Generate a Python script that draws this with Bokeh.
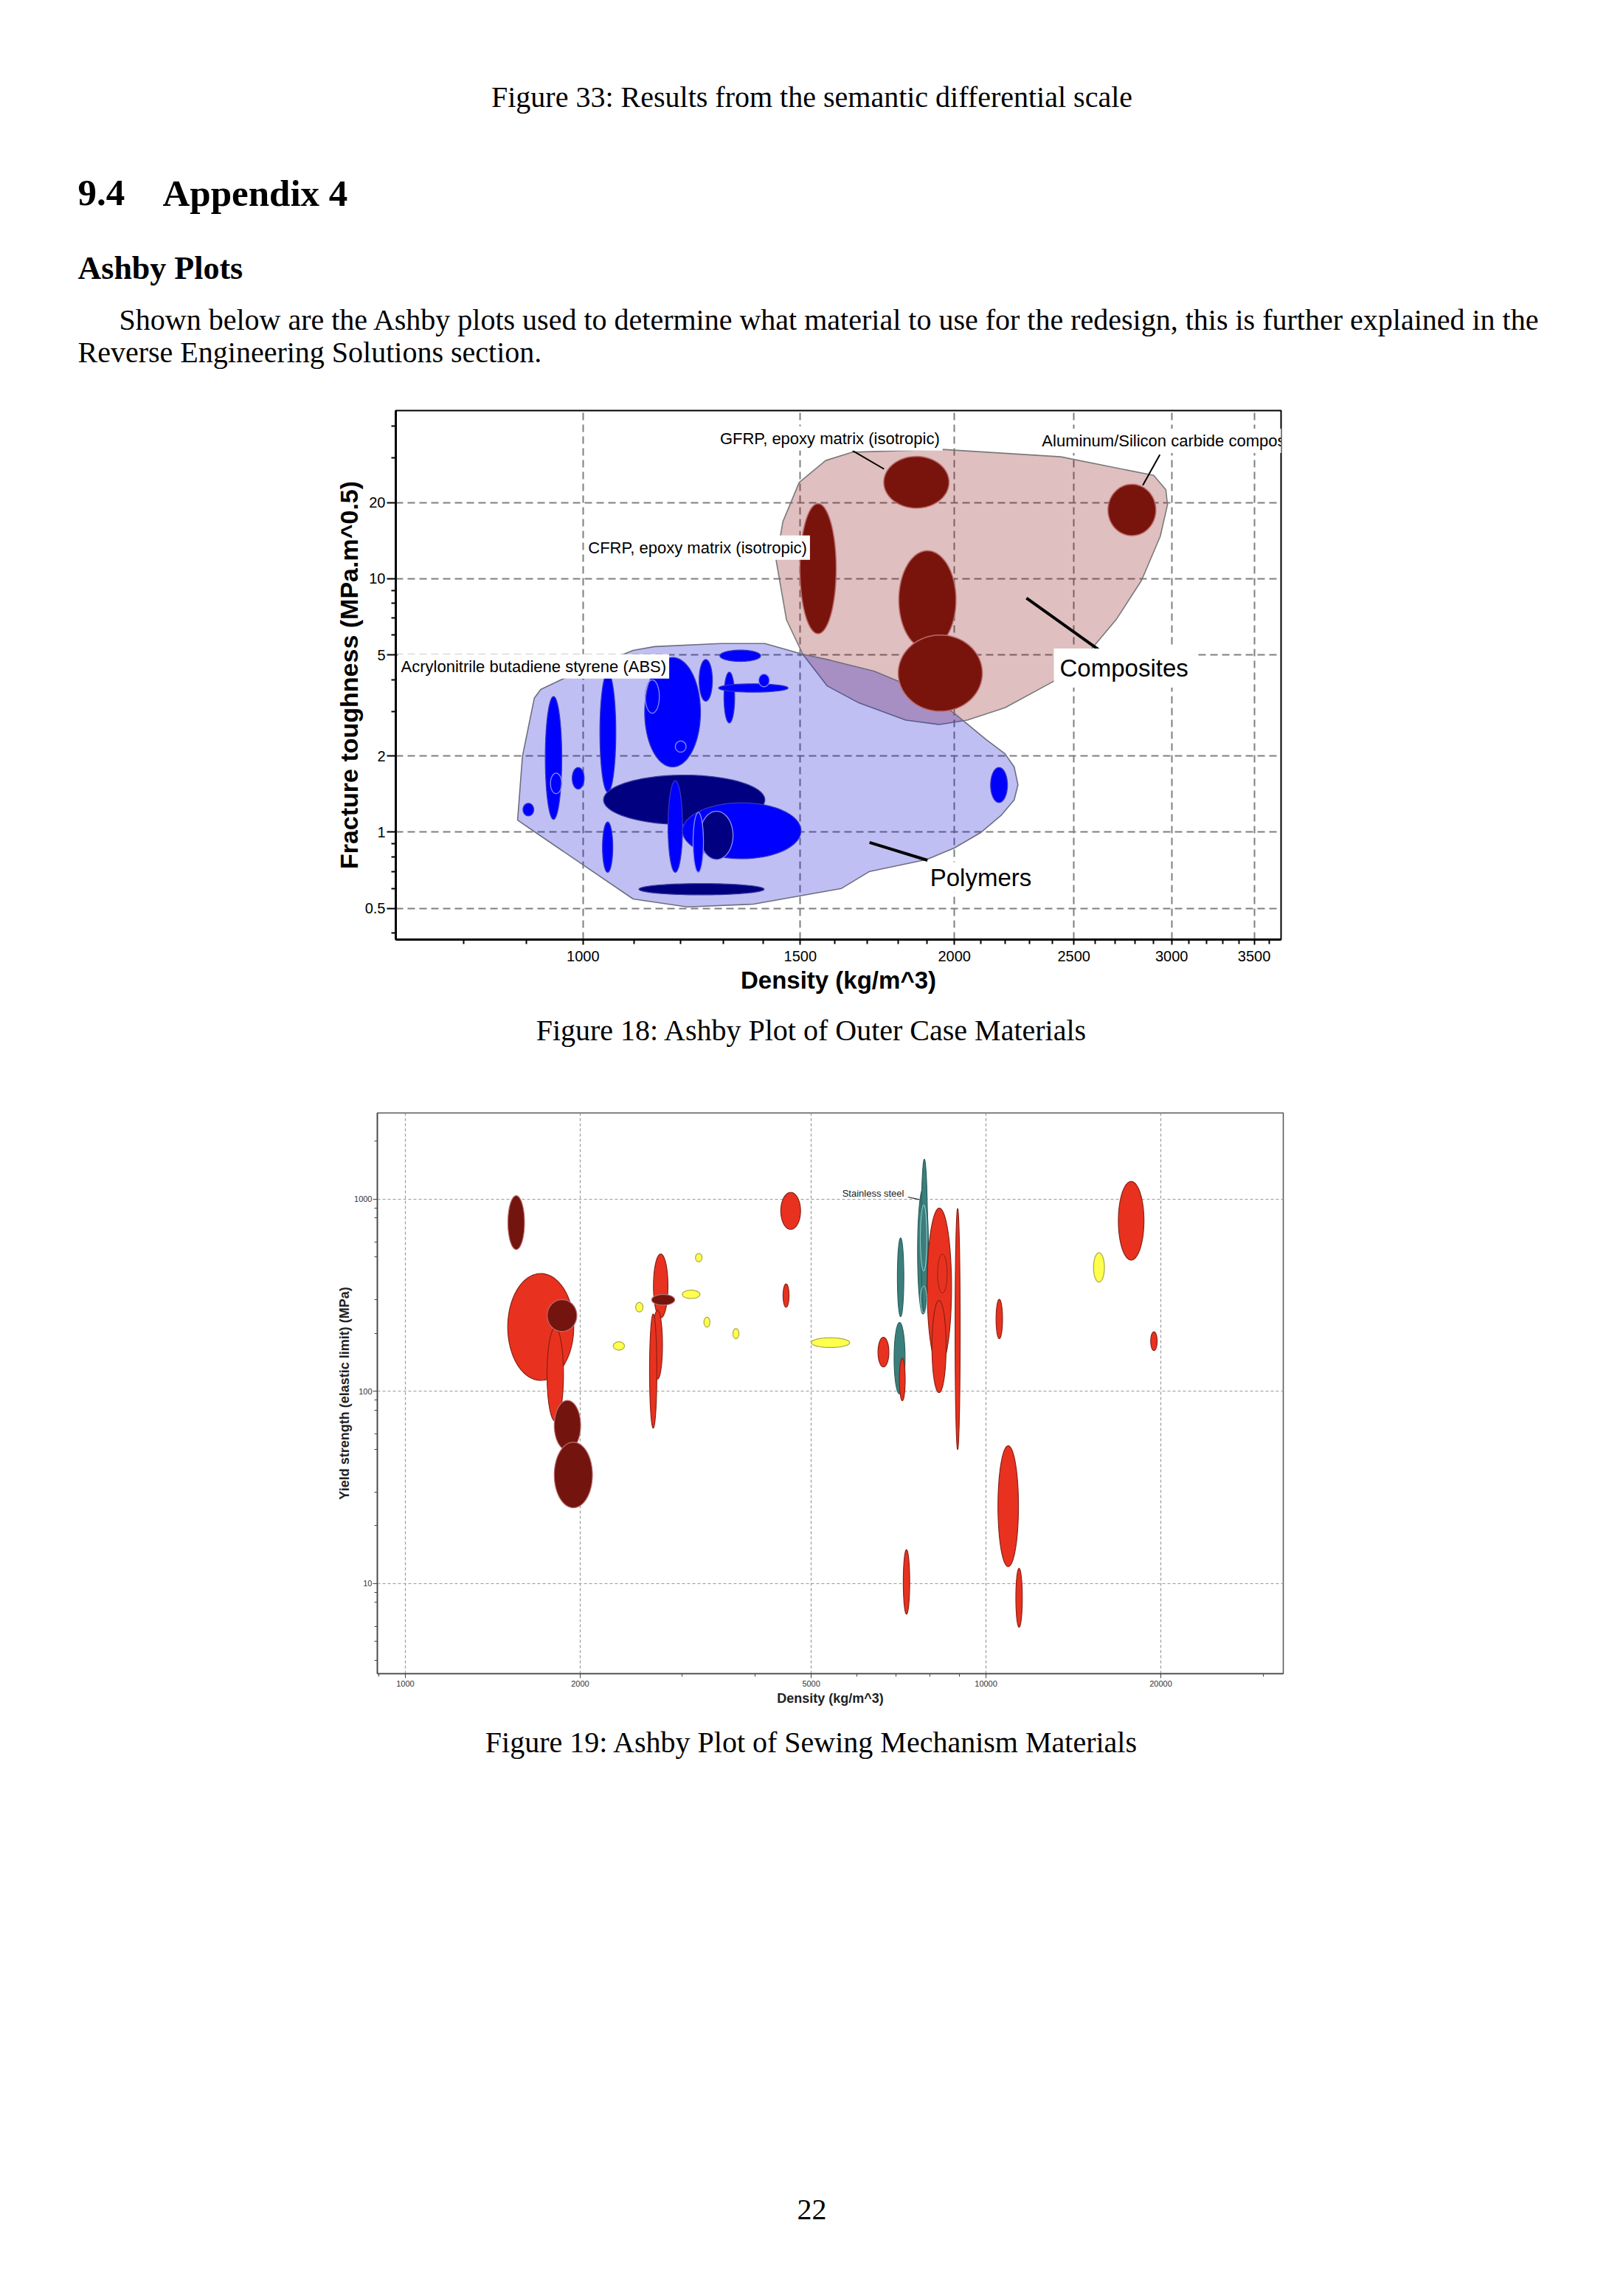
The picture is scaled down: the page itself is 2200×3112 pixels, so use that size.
import numpy as np
from bokeh.plotting import figure
from bokeh.models import Range1d, FixedTicker, ColumnDataSource, CustomJSTickFormatter
from bokeh.layouts import column
from bokeh.embed import file_html
from bokeh.resources import INLINE
from bokeh.core.properties import value

# ======================= DATA =======================
# ---- Figure 18: fracture toughness (MPa.m^0.5) vs density (kg/m^3) ----
poly_rho_lo = [894, 932, 980, 1032, 1037, 1122, 1039, 1204, 1244, 1172, 1228, 1110, 1242, 1301, 1288, 1388, 1291, 2140]
poly_rho_hi = [912, 961, 1002, 1063, 1057, 1245, 1404, 1502, 1323, 1204, 1252, 1402, 1273, 1327, 1466, 1416, 1393, 2208]
poly_k_lo = [1.16, 1.124, 1.48, 1.44, 0.695, 1.81, 1.072, 0.786, 0.78, 0.695, 0.695, 0.566, 3.29, 2.70, 3.57, 3.75, 4.72, 1.31]
poly_k_hi = [1.30, 3.43, 1.80, 4.26, 1.097, 4.89, 1.68, 1.306, 1.21, 1.597, 1.197, 0.627, 4.80, 4.28, 3.85, 4.21, 5.23, 1.80]

poly_sub_rho_lo = [941, 1123, 1188]
poly_sub_rho_hi = [961, 1153, 1212]
poly_sub_k_lo = [1.42, 2.95, 2.07]
poly_sub_k_hi = [1.71, 3.99, 2.29]

comp_names = ["CFRP, epoxy matrix (isotropic)", "GFRP, epoxy matrix (isotropic)", "Composite 3", "Composite 4",
              "Aluminum/Silicon carbide composite"]
comp_rho_lo = [1499, 1753, 1803, 1801, 2664]
comp_rho_hi = [1604, 1980, 2006, 2107, 2913]
comp_k_lo = [6.07, 19.0, 5.28, 3.0, 14.8]
comp_k_hi = [19.8, 30.4, 12.9, 6.0, 23.6]

poly_env_rho = [1098, 1143, 1292, 1404, 1507, 1587, 1722, 1878, 1999, 2122, 2198, 2236, 2252, 2236, 2184,
                2103, 1999, 1899, 1707, 1620, 1374, 1215, 1098, 916, 885, 893, 913, 924, 962]
poly_env_k = [5.22, 5.40, 5.55, 5.55, 5.04, 4.77, 4.32, 3.62, 2.95, 2.32, 2.04, 1.81, 1.54, 1.34, 1.17,
              1.0, 0.866, 0.78, 0.70, 0.60, 0.52, 0.507, 0.545, 0.995, 1.116, 1.99, 3.38, 3.66, 4.02]
comp_env_rho = [1654, 1956, 2439, 2901, 2968, 2977, 2937, 2836, 2705, 2583, 2412, 2198, 2049, 1945, 1826,
                1673, 1577, 1507, 1462, 1434, 1452, 1497, 1573]
comp_env_k = [31.6, 32.4, 30.3, 25.6, 22.45, 19.6, 14.7, 9.85, 6.9, 5.28, 3.96, 3.1, 2.77, 2.66, 2.77,
              3.24, 3.78, 5.04, 6.88, 11.8, 16.8, 24.0, 29.3]

f18_x_ticks = [1000, 1500, 2000, 2500, 3000, 3500]
f18_x_minor = [v for v in range(800, 3700, 100) if v % 500 != 0]
f18_y_ticks = [0.5, 1, 2, 5, 10, 20]
f18_y_minor = [0.4, 0.6, 0.7, 0.8, 0.9, 3, 4, 6, 7, 8, 9, 30, 40]

# ---- Figure 19: yield strength (MPa) vs density (kg/m^3) ----
sew_rho_lo = [1501, 1502, 1754, 1755, 1805, 1805, 2675, 2665, 2634, 2656, 2281, 2493, 2999, 3160, 3268, 3666,
              4432, 4472, 5000, 6516, 6946, 7037, 7094, 7624, 7732, 7919, 8071, 8846, 10407, 10486, 11256, 7203,
              15316, 16901, 19214]
sew_rho_hi = [1950, 1604, 1872, 1974, 2004, 2100, 2833, 2772, 2711, 2910, 2384, 2566, 3217, 3243, 3346, 3754,
              4793, 4579, 5824, 6803, 7253, 7218, 7257, 7960, 7929, 8721, 8536, 9025, 10675, 11372, 11546, 7388,
              15992, 18705, 19709]
sew_sig_lo = [114, 547, 69.9, 205, 49.4, 24.8, 241, 115.8, 64.4, 281, 164, 259, 304, 472, 216, 188,
              696, 274, 169, 134, 97, 245, 89.4, 252.6, 256, 134, 98.5, 49.8, 188, 12.26, 5.93, 6.94,
              370, 482, 163]
sew_sig_hi = [410, 1042, 214.6, 300, 89.7, 54.4, 518, 263.9, 252.6, 319, 181, 290, 336, 521, 243, 212,
              1083, 362, 190, 191, 228, 628, 148.7, 1130, 1612, 898, 297, 893, 301, 52.1, 12.0, 15.0,
              526, 1235, 204]
sew_family = ["red", "dark", "red", "dark", "dark", "dark", "red", "red", "red", "dark",
              "yellow", "yellow", "yellow", "yellow", "yellow", "yellow", "red", "red", "yellow", "red",
              "teal", "teal", "red", "teal", "teal", "red", "red", "red", "red", "red", "red", "red",
              "yellow", "red", "red"]
sew_sub_rho_lo = [7712, 7712, 8253]
sew_sub_rho_hi = [7909, 7909, 8572]
sew_sub_sig_lo = [422, 256, 324]
sew_sub_sig_hi = [934, 353, 518]
sew_sub_family = ["teal", "teal", "red"]

f19_x_ticks = [1000, 2000, 5000, 10000, 20000]
f19_x_minor = [900, 3000, 4000, 6000, 7000, 8000, 9000, 30000]
f19_y_ticks = [10, 100, 1000]
f19_y_minor = [4, 5, 6, 8, 9, 20, 30, 50, 60, 80, 90, 200, 300, 500, 600, 800, 900, 2000]

# ======================= STYLE =======================
SERIF = "Liberation Serif"
SANS = "Liberation Sans"
poly_shade = ["b", "b", "b", "b", "b", "b", "n", "b", "n", "b", "b", "n", "b", "b", "b", "b", "b", "b"]
poly_edge_light = [False, False, False, False, False, False, False, False, True, False, True, False,
                   False, False, False, True, False, False]
FAM_FILL = {"red": "#e8321f", "dark": "#74140e", "yellow": "#ffff4d", "teal": "#3b7f7d"}
FAM_EDGE = {"red": "#8a2014", "dark": "#b87070", "yellow": "#a9a845", "teal": "#2b5f5e"}
FAM_SUB = {"red": "#8a2014", "teal": "#a6dede"}


def ellipse(xlo, xhi, ylo, yhi, n=90):
    lx0, lx1, ly0, ly1 = np.log(xlo), np.log(xhi), np.log(ylo), np.log(yhi)
    cx, ax = (lx0 + lx1) / 2, (lx1 - lx0) / 2
    cy, ay = (ly0 + ly1) / 2, (ly1 - ly0) / 2
    t = np.linspace(0, 2 * np.pi, n)
    return list(np.exp(cx + ax * np.cos(t))), list(np.exp(cy + ay * np.sin(t)))


def text_fig(h):
    f = figure(width=2200, height=h, x_range=Range1d(0, 2200), y_range=Range1d(h, 0),
               x_axis_type=None, y_axis_type=None, output_backend="svg", toolbar_location=None,
               min_border=0, background_fill_color="white", border_fill_color="white",
               frame_align=False)
    f.outline_line_color = None
    return f


def put(f, x, y, s, size, align="left", bold=False):
    f.text(x=[x], y=[y], text=[s], text_font=value(SERIF), text_font_size=value(f"{size}px"),
           text_font_style="bold" if bold else "normal", text_align=align,
           text_baseline="middle", text_color="black")


fmt = CustomJSTickFormatter(code="return tick.toString();")

# ======================= PAGE HEADER =======================
f0 = text_fig(540)
put(f0, 1100, 131, "Figure 33: Results from the semantic differential scale", 40, align="center")
put(f0, 105, 261, "9.4", 51, bold=True)
put(f0, 220, 261, "Appendix 4", 51, bold=True)
put(f0, 105, 363, "Ashby Plots", 44, bold=True)
put(f0, 161, 433, "Shown below are the Ashby plots used to determine what material to use for the redesign, "
                  "this is further explained in the", 40)
put(f0, 105, 477, "Reverse Engineering Solutions section.", 40)

# ======================= FIGURE 18 =======================
p1 = figure(width=2200, height=830, x_axis_type="log", y_axis_type="log",
            x_range=Range1d(705, 3680), y_range=Range1d(0.377, 46.1),
            output_backend="svg", toolbar_location=None, frame_align=False,
            min_border_left=536, min_border_right=464, min_border_top=16, min_border_bottom=97,
            background_fill_color="white", border_fill_color="white")
p1.outline_line_color = "black"
p1.outline_line_width = 2
p1.xaxis.ticker = FixedTicker(ticks=f18_x_ticks, minor_ticks=f18_x_minor)
p1.yaxis.ticker = FixedTicker(ticks=f18_y_ticks, minor_ticks=f18_y_minor)
p1.xaxis.formatter = fmt
p1.yaxis.formatter = fmt
for ax in (p1.xaxis, p1.yaxis):
    ax.axis_line_width = 3
    ax.axis_line_color = "black"
    ax.major_tick_line_color = "black"
    ax.minor_tick_line_color = "black"
    ax.major_tick_line_width = 2
    ax.minor_tick_line_width = 2
    ax.major_tick_in = 0
    ax.minor_tick_in = 0
    ax.major_label_text_font = SANS
    ax.major_label_text_font_size = "20px"
    ax.major_label_text_color = "black"
    ax.axis_label_text_font = SANS
    ax.axis_label_text_font_style = "bold"
    ax.axis_label_text_color = "black"
p1.xaxis.axis_label_text_font_size = "33px"
p1.yaxis.axis_label_text_font_size = "34px"
p1.xaxis.major_tick_out = 7
p1.xaxis.minor_tick_out = 6
p1.xaxis.major_label_standoff = 8
p1.xaxis.axis_label_standoff = 4
p1.yaxis.major_tick_out = 12
p1.yaxis.minor_tick_out = 6
p1.yaxis.major_label_standoff = 2
p1.yaxis.axis_label_standoff = 0
p1.xaxis.axis_label = "Density (kg/m^3)"
p1.yaxis.axis_label = "Fracture toughness (MPa.m^0.5)"
p1.grid.grid_line_color = "#7f7f7f"
p1.grid.grid_line_width = 2
p1.grid.grid_line_dash = "10 6"

# envelopes
p1.patch(comp_env_rho, comp_env_k, fill_color="#7f0000", fill_alpha=0.25, line_color="#7a7a7a", line_width=1.6)
p1.patch(poly_env_rho, poly_env_k, fill_color="#0000d0", fill_alpha=0.25, line_color="#6e6e80", line_width=1.6)

# polymer bubbles
xs, ys, fc, lc = [], [], [], []
for i in range(len(poly_rho_lo)):
    ex, ey = ellipse(poly_rho_lo[i], poly_rho_hi[i], poly_k_lo[i], poly_k_hi[i])
    xs.append(ex); ys.append(ey)
    fc.append("#0000ff" if poly_shade[i] == "b" else "#000080")
    lc.append("#8c8cff" if poly_edge_light[i] else ("#3434c8" if poly_shade[i] == "b" else "#3a3aa0"))
p1.patches(xs="xs", ys="ys", fill_color="fc", line_color="lc", line_width=1.3,
           source=ColumnDataSource(dict(xs=xs, ys=ys, fc=fc, lc=lc)))
sx, sy = [], []
for i in range(len(poly_sub_rho_lo)):
    ex, ey = ellipse(poly_sub_rho_lo[i], poly_sub_rho_hi[i], poly_sub_k_lo[i], poly_sub_k_hi[i])
    sx.append(ex); sy.append(ey)
p1.patches(sx, sy, fill_color=None, line_color="#8c8cff", line_width=1.3)

# composite bubbles
cx_, cy_ = [], []
for i in range(len(comp_rho_lo)):
    ex, ey = ellipse(comp_rho_lo[i], comp_rho_hi[i], comp_k_lo[i], comp_k_hi[i])
    cx_.append(ex); cy_.append(ey)
p1.patches(cx_, cy_, fill_color="#79140d", line_color="#b86a6a", line_width=1.5)

# annotations (leader lines + labels), positions in data units
lead_x0 = [1654, 2935, 2288, 1707]
lead_y0 = [32.0, 30.9, 8.39, 0.911]
lead_x1 = [1754, 2843, 2622, 1902]
lead_y1 = [27.1, 23.4, 5.22, 0.775]
lead_w = [2, 2, 4, 4]
p1.segment(x0=lead_x0, y0=lead_y0, x1=lead_x1, y1=lead_y1, line_color="black", line_width=lead_w)

small = dict(text_font=value(SANS), text_font_size=value("22px"), text_baseline="middle",
             text_color="black", background_fill_color="white", padding=4)
p1.text(x=[1284], y=[35.8], text=["GFRP, epoxy matrix (isotropic)"], text_align="left", **small)
p1.text(x=[2342], y=[35.0], text=["Aluminum/Silicon carbide compos"], text_align="left", **small)
p1.text(x=[1004], y=[13.27], text=["CFRP, epoxy matrix (isotropic)"], text_align="left", **small)
p1.text(x=[708], y=[4.51], text=["Acrylonitrile butadiene styrene (ABS)"], text_align="left", **small)
big = dict(text_font=value(SANS), text_font_size=value("33px"), text_baseline="middle",
           text_color="black", background_fill_color="white", text_align="center")
p1.text(x=[2745], y=[4.44], text=["Composites"], padding=8, **big)
p1.text(x=[2101], y=[0.664], text=["Polymers"], padding=2, **big)

f2 = text_fig(120)
put(f2, 1100, 26, "Figure 18: Ashby Plot of Outer Case Materials", 40, align="center")

# ======================= FIGURE 19 =======================
p2 = figure(width=2200, height=840, x_axis_type="log", y_axis_type="log",
            x_range=Range1d(895, 32500), y_range=Range1d(3.40, 2806),
            output_backend="svg", toolbar_location=None, frame_align=False,
            min_border_left=511, min_border_right=461, min_border_top=18, min_border_bottom=62,
            background_fill_color="white", border_fill_color="white")
p2.outline_line_color = "#555555"
p2.outline_line_width = 1.5
p2.xaxis.ticker = FixedTicker(ticks=f19_x_ticks, minor_ticks=f19_x_minor)
p2.yaxis.ticker = FixedTicker(ticks=f19_y_ticks, minor_ticks=f19_y_minor)
p2.xaxis.formatter = fmt
p2.yaxis.formatter = fmt
for ax in (p2.xaxis, p2.yaxis):
    ax.axis_line_width = 1.6
    ax.axis_line_color = "#444444"
    ax.major_tick_line_color = "#444444"
    ax.minor_tick_line_color = "#444444"
    ax.major_tick_in = 0
    ax.minor_tick_in = 0
    ax.major_tick_out = 6
    ax.minor_tick_out = 4
    ax.major_label_text_font = SANS
    ax.major_label_text_font_size = "11px"
    ax.major_label_text_color = "#333333"
    ax.axis_label_text_font = SANS
    ax.axis_label_text_font_style = "bold"
    ax.axis_label_text_font_size = "18px"
    ax.axis_label_text_color = "#222222"
p2.xaxis.major_label_standoff = 3
p2.xaxis.axis_label_standoff = 3
p2.yaxis.major_label_standoff = 1
p2.yaxis.axis_label_standoff = 0
p2.xaxis.axis_label = "Density (kg/m^3)"
p2.yaxis.axis_label = "Yield strength (elastic limit) (MPa)"
p2.grid.grid_line_color = "#9a9a9a"
p2.grid.grid_line_width = 1.2
p2.grid.grid_line_dash = "4 3"

xs2, ys2, fc2, lc2 = [], [], [], []
for i in range(len(sew_rho_lo)):
    ex, ey = ellipse(sew_rho_lo[i], sew_rho_hi[i], sew_sig_lo[i], sew_sig_hi[i])
    xs2.append(ex); ys2.append(ey)
    fc2.append(FAM_FILL[sew_family[i]]); lc2.append(FAM_EDGE[sew_family[i]])
p2.patches(xs="xs", ys="ys", fill_color="fc", line_color="lc", line_width=1.2,
           source=ColumnDataSource(dict(xs=xs2, ys=ys2, fc=fc2, lc=lc2)))
sx2, sy2, sl2 = [], [], []
for i in range(len(sew_sub_rho_lo)):
    ex, ey = ellipse(sew_sub_rho_lo[i], sew_sub_rho_hi[i], sew_sub_sig_lo[i], sew_sub_sig_hi[i])
    sx2.append(ex); sy2.append(ey); sl2.append(FAM_SUB[sew_sub_family[i]])
p2.patches(xs="xs", ys="ys", fill_color=None, line_color="lc", line_width=1.0,
           source=ColumnDataSource(dict(xs=sx2, ys=sy2, lc=sl2)))

p2.segment(x0=[7338], y0=[1025], x1=[7673], y1=[995], line_color="#222222", line_width=1.2)
p2.text(x=[5654], y=[1067], text=["Stainless steel"], text_align="left", text_baseline="middle",
        text_font=value(SANS), text_font_size=value("13px"), text_color="#222222")

f4 = text_fig(782)
put(f4, 1100, 31, "Figure 19: Ashby Plot of Sewing Mechanism Materials", 40, align="center")
put(f4, 1100, 664, "22", 40, align="center")

page = column(f0, p1, f2, p2, f4, spacing=0)
open("out.html", "w").write(file_html(page, INLINE))
